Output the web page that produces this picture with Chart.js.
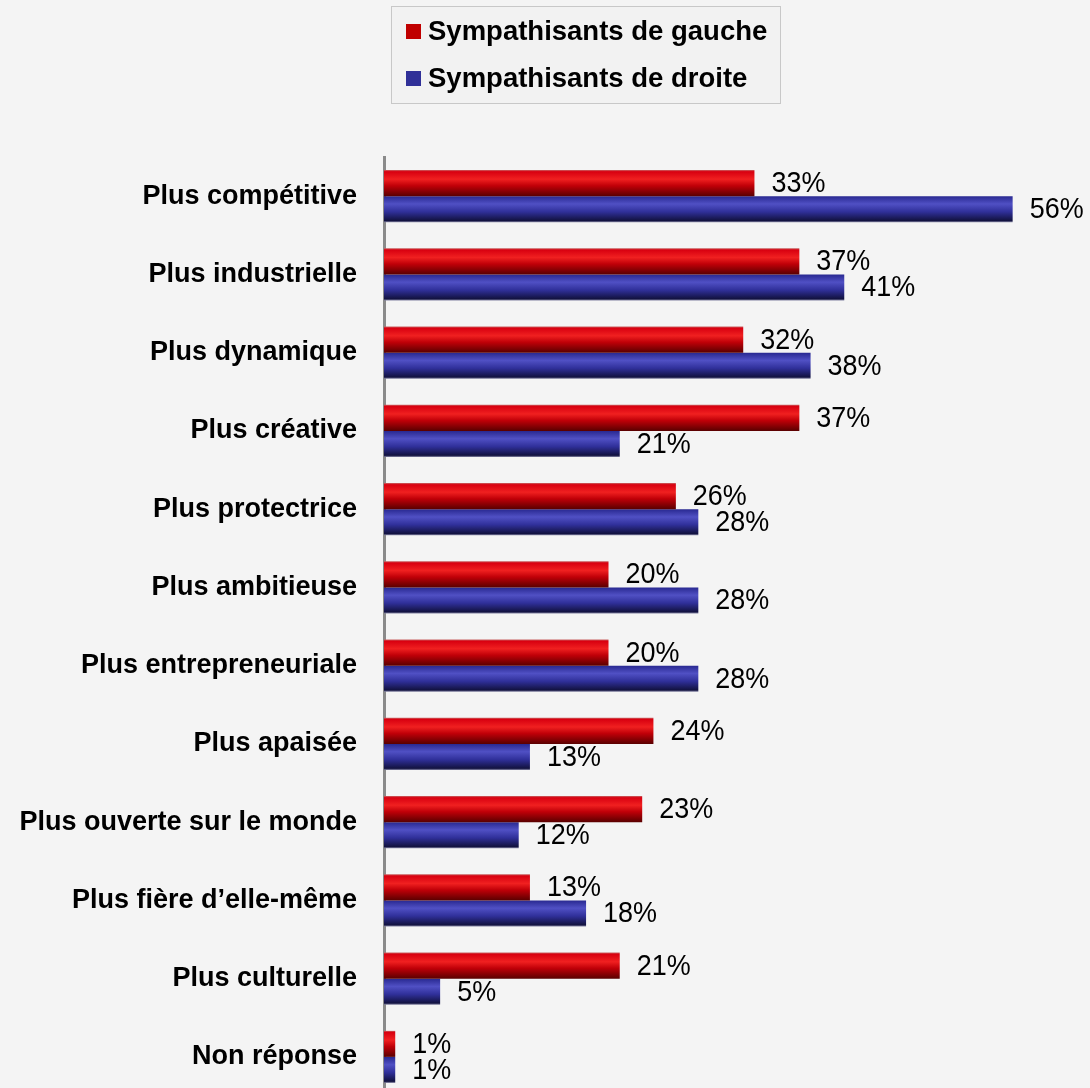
<!DOCTYPE html>
<html lang="fr">
<head>
    <meta charset="UTF-8">
    <title>Sympathisants de gauche / droite</title>
    <script src="https://cdn.jsdelivr.net/npm/chart.js"></script>
    <style>
        body { margin: 0; background: #f4f4f4; overflow: hidden; }
    </style>
</head>
<body>
    <canvas id="barChart" width="1090" height="1096"></canvas>
    <script>
        const categories = [
            'Plus compétitive', 'Plus industrielle', 'Plus dynamique', 'Plus créative',
            'Plus protectrice', 'Plus ambitieuse', 'Plus entrepreneuriale', 'Plus apaisée',
            'Plus ouverte sur le monde', 'Plus fière d\u2019elle-même', 'Plus culturelle', 'Non réponse'
        ];
        const gauche = [33, 37, 32, 37, 26, 20, 20, 24, 23, 13, 21, 1];
        const droite = [56, 41, 38, 21, 28, 28, 28, 13, 12, 18, 5, 1];
        const seriesNames = ['Sympathisants de gauche', 'Sympathisants de droite'];

        const CAT_PCT = 0.665;
        const FONT = '"Liberation Sans", Arial, sans-serif';

        // gradient stops for the "cylinder" look
        const redStops = [[0, '#c86060'], [0.06, '#d80010'], [0.35, '#f02020'], [0.6, '#c00008'], [1, '#5a0000']];
        const blueStops = [[0, '#282890'], [0.3, '#5050c4'], [0.6, '#30309a'], [0.94, '#121240'], [1, '#8080a0']];

        function barGradient(ctx, stops, datasetIdx) {
            const chart = ctx.chart;
            const y = chart.scales.y;
            if (!chart.chartArea || !y || ctx.dataIndex === undefined) return stops[2][1];
            const center = y.getPixelForValue(ctx.dataIndex);
            const bh = (chart.chartArea.height / categories.length) * CAT_PCT / 2;
            const top = datasetIdx === 0 ? center - bh : center;
            const g = chart.ctx.createLinearGradient(0, top, 0, top + bh);
            stops.forEach(s => g.addColorStop(s[0], s[1]));
            return g;
        }

        // legend box drawn at the top
        const legendBox = {
            id: 'legendBox',
            afterDraw(chart) {
                const c = chart.ctx;
                c.save();
                c.fillStyle = '#f2f2f2';
                c.fillRect(391, 6, 389, 97);
                c.strokeStyle = '#c8c8c8';
                c.lineWidth = 1;
                c.strokeRect(391.5, 6.5, 389, 97);
                const cols = ['#c00000', '#303098'];
                c.font = 'bold 27.5px ' + FONT;
                c.textBaseline = 'middle';
                seriesNames.forEach((name, i) => {
                    const yy = 31 + i * 47;
                    c.fillStyle = cols[i];
                    c.fillRect(406, yy - 7, 15, 15);
                    c.fillStyle = '#000';
                    c.fillText(name, 428, yy + 1);
                });
                c.restore();
            }
        };

        // value labels at the end of each bar
        const valueLabels = {
            id: 'valueLabels',
            afterDatasetsDraw(chart) {
                const c = chart.ctx;
                c.save();
                c.font = '29px ' + FONT;
                c.fillStyle = '#000';
                c.textBaseline = 'middle';
                chart.data.datasets.forEach((ds, di) => {
                    chart.getDatasetMeta(di).data.forEach((bar, i) => {
                        c.save();
                        c.translate(bar.x + 17, bar.y + 1);
                        c.scale(0.93, 1);
                        c.fillText(ds.data[i] + '%', 0, 0);
                        c.restore();
                    });
                });
                c.restore();
            }
        };

        const chart = new Chart(document.getElementById('barChart'), {
            type: 'bar',
            data: {
                labels: categories,
                datasets: [{
                    label: seriesNames[0],
                    data: gauche,
                    backgroundColor: ctx => barGradient(ctx, redStops, 0),
                    categoryPercentage: CAT_PCT,
                    barPercentage: 1
                }, {
                    label: seriesNames[1],
                    data: droite,
                    backgroundColor: ctx => barGradient(ctx, blueStops, 1),
                    categoryPercentage: CAT_PCT,
                    barPercentage: 1
                }]
            },
            options: {
                indexAxis: 'y',
                responsive: false,
                animation: false,
                layout: { padding: { top: 157, right: 10, bottom: 0, left: 0 } },
                plugins: {
                    legend: { display: false },
                    tooltip: { enabled: false }
                },
                scales: {
                    x: {
                        display: false,
                        min: 0,
                        max: 62
                    },
                    y: {
                        grid: { display: false, drawTicks: false },
                        border: { display: true, color: '#8a8a8a', width: 3 },
                        ticks: {
                            color: '#000',
                            padding: 27,
                            font: { family: FONT, size: 27, weight: 'bold' }
                        },
                        afterFit(scale) {
                            scale.width = 384;
                            scale.paddingTop = 0;
                            scale.paddingBottom = 0;
                        }
                    }
                }
            },
            plugins: [legendBox, valueLabels]
        });
    </script>
</body>
</html>
